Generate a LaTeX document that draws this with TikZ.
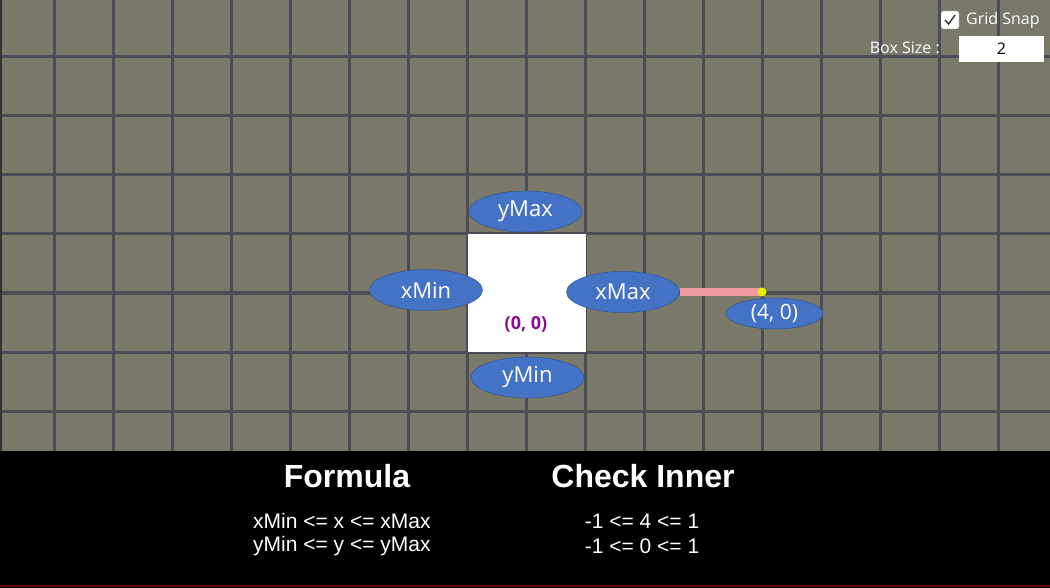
\documentclass[tikz,border=0pt]{standalone}
\usepackage{fontspec}
\setmainfont{Open Sans}
\newfontfamily\arialfont{Liberation Sans}
\usepackage{tikz}
\usetikzlibrary{shapes.geometric,positioning}
\definecolor{gridbg}{HTML}{7A7868}
\definecolor{gridline}{HTML}{4B4D55}
\definecolor{handlefill}{HTML}{4472C4}
\definecolor{handleedge}{HTML}{2F528F}
\definecolor{rangepink}{HTML}{EE9A9E}
\definecolor{originpurple}{HTML}{8E0A92}
\definecolor{pointyellow}{HTML}{E6F000}

\begin{document}
\begin{tikzpicture}[x=1pt,y=-1pt,
  handle/.style={ellipse,draw=handleedge,fill=handlefill,text=white,inner sep=0pt,
    minimum width=113pt,minimum height=41pt,font=\fontsize{22}{22}\selectfont},
  uitext/.style={font=\fontsize{16}{16}\selectfont,text=white,inner sep=0pt},
  paneltext/.style={font=\arialfont\fontsize{21}{24}\selectfont,text=white,inner sep=0pt},
  panelhead/.style={font=\arialfont\bfseries\fontsize{32}{32}\selectfont,text=white,inner sep=0pt}]
  \useasboundingbox (0,0) rectangle (1050,588);
  % grid
  \fill[gridbg] (0,0) rectangle (1050,451);
  \foreach \gx in {0,...,16}
    \draw[gridline,line width=3pt] (54.5+59*\gx,0) -- (54.5+59*\gx,451);
  \foreach \gy in {0,...,6}
    \draw[gridline,line width=3pt] (0,57+59*\gy) -- (1050,57+59*\gy);
  \fill[black!80] (0,0) rectangle (2,451);

  % box and its handles
  \node[fill=white,minimum size=118pt,inner sep=0pt] (box) at (526.5,293) {};
  \node[font=\bfseries\fontsize{18}{18}\selectfont,text=originpurple] (origin) at (526,324) {(0, 0)};
  \node[handle] (ymax) at (525.5,211.5) {yMax};
  \node[handle] (xmin) at (426,290) {xMin};
  \node[handle] (ymin) at (527.5,377.5) {yMin};
  \node[handle] (xmax) at (623,292) {xMax};

  % tested point
  \coordinate (pt) at (762,292);
  \draw[rangepink,line width=7pt] (xmax.east) -- (pt);
  \fill[pointyellow] (pt) circle (4.5);
  \node[handle,minimum width=97pt,minimum height=31pt,font=\fontsize{21}{21}\selectfont] (ptlabel) at (774.5,313.5) {(4, 0)};

  % controls
  \node[draw=gray,fill=white,rounded corners=2pt,minimum size=18pt,inner sep=0pt] (snapbox) at (950,20) {};
  \draw[black!80,line width=1.4pt] ([xshift=-5pt,yshift=0pt]snapbox.center) -- ([xshift=-1.5pt,yshift=-4pt]snapbox.center) -- ([xshift=5pt,yshift=5pt]snapbox.center);
  \node[uitext,anchor=west] (snaplabel) at (966,20) {Grid Snap};
  \node[fill=white,minimum width=85pt,minimum height=26pt,inner sep=0pt,
    font=\fontsize{16}{16}\selectfont] (sizebox) at (1001.5,49) {2};
  \node[uitext,anchor=east] (sizelabel) at (940,48) {Box Size :};

  % bottom panel
  \fill[black] (0,451) rectangle (1050,588);
  \draw[red!40!black,line width=1.5pt] (0,586) -- (1050,586);
  \node[panelhead] (formulahead) at (347,476) {Formula};
  \node[panelhead] (checkhead) at (643,476) {Check Inner};
  \node[paneltext,anchor=west] (formx) at (253,521) {xMin <= x <= xMax};
  \node[paneltext,anchor=west] (formy) at (253,546) {yMin <= y <= yMax};
  \node[paneltext] (checkx) at (642,521) {-1 <= 4 <= 1};
  \node[paneltext] (checky) at (642,546) {-1 <= 0 <= 1};
\end{tikzpicture}
\end{document}
